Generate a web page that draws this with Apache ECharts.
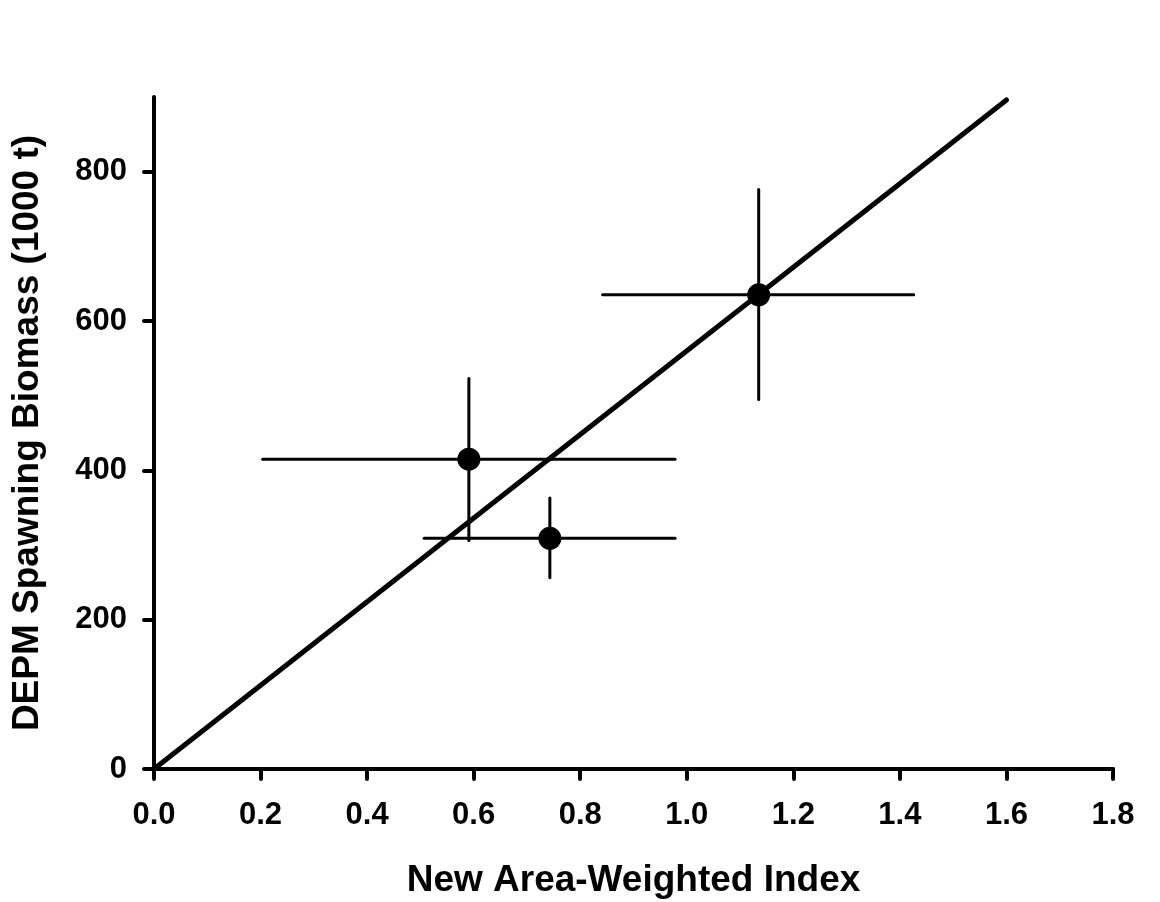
<!DOCTYPE html>
<html>
<head>
<meta charset="utf-8">
<title>DEPM vs index</title>
<script src="https://cdn.jsdelivr.net/npm/echarts@6/dist/echarts.min.js"></script>
<style>
  html, body { margin: 0; padding: 0; background: #fff; }
  #main { width: 1160px; height: 902px; }
</style>
</head>
<body>
<div id="main"></div>
<script>
// points (index, biomass) and their error bar ends
var pointX = [1.135, 0.591, 0.743];
var pointY = [635, 415, 309];
var xLow = [0.842, 0.204, 0.507];
var xHigh = [1.426, 0.978, 0.978];
var yLow = [495, 306, 256];
var yHigh = [776, 523, 363];
// fitted line through origin
var fitX = [0, 1.6];
var fitY = [0, 896];
// tick labels
var xTicks = [0, 0.2, 0.4, 0.6, 0.8, 1.0, 1.2, 1.4, 1.6, 1.8];
var yTicks = [0, 200, 400, 600, 800];

var font = '"Liberation Sans", Arial, sans-serif';

var errData = [];
for (var i = 0; i < pointX.length; i++) {
  errData.push([pointX[i], pointY[i], xLow[i], xHigh[i], yLow[i], yHigh[i]]);
}
var fitData = [];
for (var j = 0; j < fitX.length; j++) {
  fitData.push([fitX[j], fitY[j]]);
}
var dots = [];
for (var k = 0; k < pointX.length; k++) {
  dots.push([pointX[k], pointY[k]]);
}

var myChart = echarts.init(document.getElementById('main'));

var option = {
  backgroundColor: '#fff',
  animation: false,
  grid: { left: 154, right: 47, top: 97, bottom: 133, containLabel: false, outerBoundsMode: 'none' },
  xAxis: {
    type: 'value',
    min: 0,
    max: 1.8,
    interval: 0.2,
    name: 'New Area-Weighted Index',
    nameLocation: 'middle',
    nameGap: 93,
    nameTextStyle: { fontFamily: font, fontWeight: 'bold', fontSize: 37, color: '#000' },
    axisLine: { lineStyle: { color: '#000', width: 4, cap: 'round' } },
    axisTick: { show: true, inside: false, length: 10, customValues: xTicks, lineStyle: { color: '#000', width: 4, cap: 'round' } },
    axisLabel: {
      customValues: xTicks,
      margin: 31,
      fontFamily: font, fontWeight: 'bold', fontSize: 31, color: '#000',
      formatter: function (v) { return v.toFixed(1); }
    },
    splitLine: { show: false }
  },
  yAxis: {
    type: 'value',
    min: 0,
    max: 900,
    name: 'DEPM Spawning Biomass (1000 t)',
    nameLocation: 'middle',
    nameGap: 108,
    nameTextStyle: { fontFamily: font, fontWeight: 'bold', fontSize: 37, color: '#000' },
    axisLine: { lineStyle: { color: '#000', width: 4, cap: 'round' } },
    axisTick: { show: true, inside: false, length: 10, customValues: yTicks, lineStyle: { color: '#000', width: 4, cap: 'round' } },
    axisLabel: {
      customValues: yTicks,
      margin: 27,
      fontFamily: font, fontWeight: 'bold', fontSize: 31, color: '#000'
    },
    splitLine: { show: false }
  },
  series: [
    {
      name: 'fit',
      type: 'line',
      data: fitData,
      showSymbol: false,
      symbol: 'none',
      lineStyle: { color: '#000', width: 5, cap: 'round' },
      z: 3
    },
    {
      name: 'error',
      type: 'custom',
      data: errData,
      renderItem: function (params, api) {
        var c = api.coord([api.value(0), api.value(1)]);
        var l = api.coord([api.value(2), api.value(1)]);
        var r = api.coord([api.value(3), api.value(1)]);
        var b = api.coord([api.value(0), api.value(4)]);
        var t = api.coord([api.value(0), api.value(5)]);
        var st = { stroke: '#000', lineWidth: 3, lineCap: 'round' };
        return {
          type: 'group',
          children: [
            { type: 'line', shape: { x1: l[0], y1: c[1], x2: r[0], y2: c[1] }, style: st },
            { type: 'line', shape: { x1: c[0], y1: b[1], x2: c[0], y2: t[1] }, style: st }
          ]
        };
      },
      z: 4
    },
    {
      name: 'points',
      type: 'scatter',
      data: dots,
      symbol: 'circle',
      symbolSize: 23,
      itemStyle: { color: '#000', opacity: 1 },
      z: 5
    }
  ]
};

myChart.setOption(option);
</script>
</body>
</html>
